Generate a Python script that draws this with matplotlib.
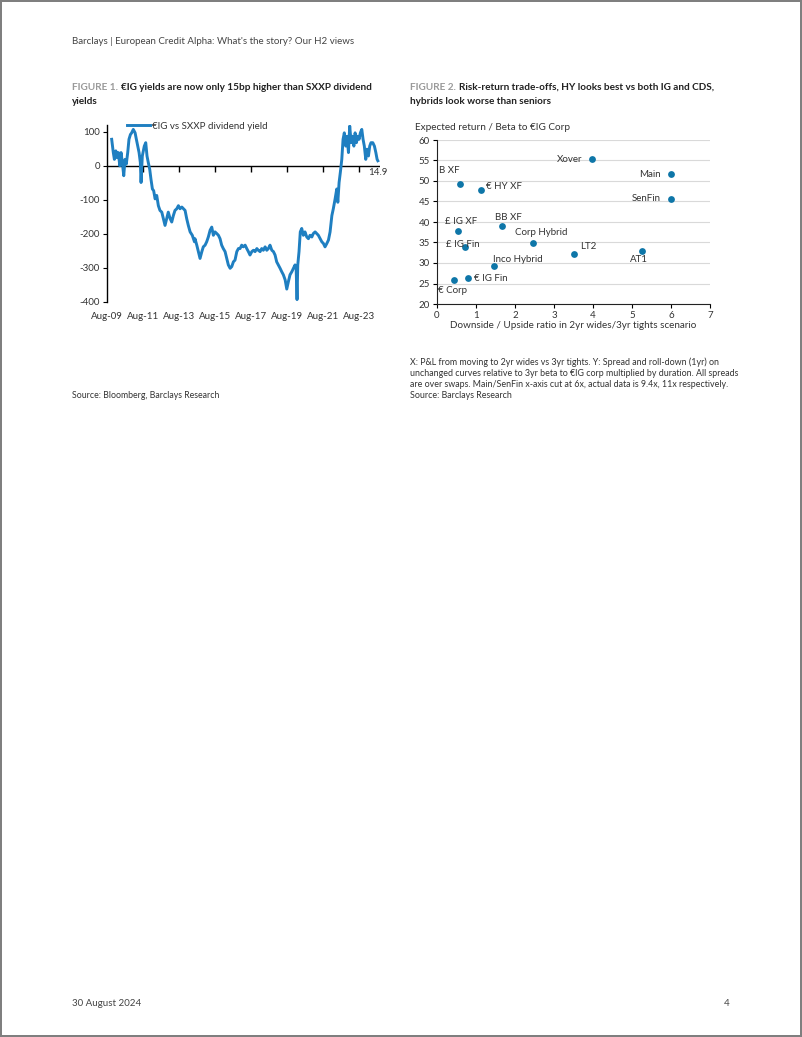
import matplotlib
matplotlib.use("Agg")
import matplotlib.pyplot as plt
import pandas as pd
import numpy as np

plt.rcParams['font.family'] = ['Lato', 'DejaVu Sans']
plt.rcParams['axes.unicode_minus'] = False

# ---------------- Data ----------------
# Figure 1: €IG vs SXXP dividend yield (bp), dates as decimal years
fig1_years = [
    2009.84, 2009.93, 2009.99, 2010.07, 2010.14, 2010.21, 2010.29, 2010.36, 2010.43, 2010.51,
    2010.58, 2010.65, 2010.73, 2010.80, 2010.88, 2010.95, 2011.04, 2011.14, 2011.21, 2011.29,
    2011.36, 2011.43, 2011.47, 2011.54, 2011.65, 2011.73, 2011.80, 2011.87, 2011.95, 2012.02,
    2012.10, 2012.17, 2012.25, 2012.34, 2012.43, 2012.52, 2012.62, 2012.71, 2012.80, 2012.89,
    2012.98, 2013.08, 2013.17, 2013.26, 2013.35, 2013.45, 2013.54, 2013.63, 2013.73, 2013.82,
    2013.91, 2014.00, 2014.09, 2014.19, 2014.31, 2014.43, 2014.46, 2014.56, 2014.65, 2014.74,
    2014.84, 2014.92, 2015.02, 2015.11, 2015.20, 2015.30, 2015.39, 2015.48, 2015.57, 2015.67,
    2015.76, 2015.85, 2015.94, 2016.03, 2016.13, 2016.22, 2016.31, 2016.41, 2016.50, 2016.59,
    2016.68, 2016.78, 2016.87, 2016.96, 2017.05, 2017.14, 2017.24, 2017.33, 2017.42, 2017.51,
    2017.61, 2017.70, 2017.79, 2017.89, 2017.97, 2018.07, 2018.16, 2018.25, 2018.35, 2018.44,
    2018.53, 2018.62, 2018.72, 2018.81, 2018.90, 2018.99, 2019.08, 2019.18, 2019.27, 2019.36,
    2019.46, 2019.55, 2019.64, 2019.73, 2019.83, 2019.92, 2020.01, 2020.07, 2020.12, 2020.16,
    2020.23, 2020.30, 2020.38, 2020.47, 2020.56, 2020.66, 2020.75, 2020.84, 2020.94, 2021.02,
    2021.12, 2021.21, 2021.30, 2021.40, 2021.49, 2021.58, 2021.67, 2021.77, 2021.86, 2021.95,
    2022.05, 2022.13, 2022.23, 2022.32, 2022.38, 2022.45, 2022.52, 2022.60, 2022.67, 2022.74,
    2022.82, 2022.89, 2022.97, 2023.04, 2023.12, 2023.19, 2023.27, 2023.34, 2023.41, 2023.49,
    2023.56, 2023.63, 2023.71, 2023.78, 2023.85, 2023.93, 2024.00, 2024.08, 2024.15, 2024.22,
    2024.32, 2024.41, 2024.49, 2024.56, 2024.60,
]
fig1_values = [
    78, 39, 19, 44, 24, 39, 0, 39, 10, -29,
    19, 5, 39, 78, 92, 97, 107, 97, 78, 58,
    39, 10, -49, 29, 58, 68, 29, 10, -10, -39,
    -68, -73, -97, -87, -117, -131, -136, -155, -175, -155,
    -136, -155, -165, -146, -131, -126, -117, -126, -121, -126,
    -131, -155, -175, -194, -204, -223, -214, -233, -252, -272,
    -252, -238, -233, -223, -209, -189, -180, -204, -194, -199,
    -204, -214, -233, -243, -252, -272, -291, -301, -296, -282,
    -277, -252, -243, -243, -233, -238, -233, -243, -252, -262,
    -252, -248, -252, -243, -248, -252, -243, -248, -238, -248,
    -243, -233, -248, -252, -262, -282, -291, -301, -311, -320,
    -335, -362, -340, -320, -311, -301, -291, -301, -393, -291,
    -252, -194, -184, -204, -194, -209, -214, -204, -209, -199,
    -194, -199, -204, -214, -223, -228, -238, -228, -218, -194,
    -146, -126, -97, -68, -107, -49, -19, 19, 78, 97,
    58, 87, 39, 117, 68, 87, 58, 97, 68, 87,
    78, 97, 107, 78, 58, 19, 49, 29, 58, 68,
    68, 58, 39, 19, 14.9,
]
fig1_series_name = "€IG vs SXXP dividend yield"
fig1_xtick_dates = ["2009-08-01", "2011-08-01", "2013-08-01", "2015-08-01",
                    "2017-08-01", "2019-08-01", "2021-08-01", "2023-08-01"]
fig1_xtick_labels = ["Aug-09", "Aug-11", "Aug-13", "Aug-15", "Aug-17", "Aug-19", "Aug-21", "Aug-23"]
fig1_yticks = [100, 0, -100, -200, -300, -400]
fig1_end_label = "14.9"

# Figure 2: risk-return scatter
fig2_names = ["Xover", "Main", "SenFin", "B XF", "€ HY XF", "£ IG XF", "BB XF",
              "Corp Hybrid", "£ IG Fin", "LT2", "AT1", "Inco Hybrid", "€ IG Fin", "€ Corp"]
fig2_x = [3.98, 6.0, 6.0, 0.60, 1.12, 0.54, 1.67, 2.45, 0.71, 3.50, 5.26, 1.45, 0.79, 0.44]
fig2_y = [55.3, 51.7, 45.7, 49.15, 47.7, 37.7, 39.0, 34.9, 33.9, 32.3, 32.9, 29.2, 26.3, 25.8]

# label placement (pixel offsets, alignment) - styling only
label_style = {
    "Xover": (-10, 0, "right"), "Main": (-10, 0, "right"), "SenFin": (-10, 0, "right"),
    "B XF": (-21, 14, "left"), "€ HY XF": (5, 4, "left"), "£ IG XF": (-13, 10, "left"),
    "BB XF": (-7, 9, "left"), "Corp Hybrid": (-18, 10, "left"), "£ IG Fin": (-19, 3, "left"),
    "LT2": (7, 7, "left"), "AT1": (-12, -8, "left"), "Inco Hybrid": (-1, 7, "left"),
    "€ IG Fin": (6, 0, "left"), "€ Corp": (-16, -10, "left"),
}

# ---------------- Figure ----------------
W, H = 802, 1037
fig = plt.figure(figsize=(W / 100, H / 100), dpi=100)
fig.patch.set_facecolor("white")
fig.patch.set_edgecolor("#7f7f7f")
fig.patch.set_linewidth(1.5)

def fx(px):
    return px / W

def fy(py):
    return 1 - py / H

TXT = "#333333"
LINE_C = "#1f7fc1"
DOT_C = "#0e76a8"

# Header / footer
fig.text(fx(72), fy(42), "Barclays | European Credit Alpha: What's the story? Our H2 views",
         fontsize=7, color="#444444", va="center", ha="left")
fig.text(fx(72), fy(1003), "30 August 2024", fontsize=7, color="#444444", va="center")
fig.text(fx(730), fy(1003), "4", fontsize=7, color="#444444", va="center", ha="right")

fig.canvas.draw()
renderer = fig.canvas.get_renderer()

def title(x, y, prefix, rest, line2):
    t = fig.text(fx(x), fy(y), prefix, fontsize=7.2, fontweight="bold", color="#9a9a9a",
                 va="center", ha="left")
    bb = t.get_window_extent(renderer=renderer)
    fig.text(fx(bb.x1 + 3), fy(y), rest, fontsize=7.2, fontweight="bold", color="#222222",
             va="center", ha="left")
    fig.text(fx(x), fy(y + 14), line2, fontsize=7.2, fontweight="bold", color="#222222",
             va="center", ha="left")

title(72, 87, "FIGURE 1.", "€IG yields are now only 15bp higher than SXXP dividend", "yields")
title(410, 87, "FIGURE 2.", "Risk-return trade-offs, HY looks best vs both IG and CDS,",
      "hybrids look worse than seniors")

# ---------------- Figure 1 axes ----------------
def year_to_ts(y):
    yr = int(np.floor(y))
    return pd.Timestamp(f"{yr}-01-01") + pd.Timedelta(days=(y - yr) * 365.25)

ax1 = fig.add_axes([fx(107), fy(302), fx(380) - fx(107), fy(125) - fy(302)])
d1 = [year_to_ts(y) for y in fig1_years]
ax1.plot(d1, fig1_values, color=LINE_C, lw=2.1, label=fig1_series_name, solid_joinstyle="round")
ax1.set_ylim(-400, 120)
ax1.set_xlim(pd.Timestamp("2009-08-01"), pd.Timestamp("2024-09-20"))
ax1.axhline(0, color="black", lw=1, zorder=1)
xt = pd.to_datetime(fig1_xtick_dates)
ax1.plot(xt[1:], [0] * (len(xt) - 1), ls="none", marker=3, ms=4, mew=1, color="black", zorder=1)
ax1.set_xticks(xt)
ax1.set_xticklabels(fig1_xtick_labels)
ax1.set_yticks(fig1_yticks)
for s in ["top", "right", "bottom"]:
    ax1.spines[s].set_visible(False)
ax1.spines["left"].set_color("black")
ax1.spines["left"].set_linewidth(1)
ax1.tick_params(axis="x", length=0, pad=7, labelsize=7, labelcolor=TXT)
ax1.tick_params(axis="y", length=3, width=0.8, pad=2, labelsize=7, labelcolor=TXT)
ax1.annotate(fig1_end_label, xy=(d1[-1], fig1_values[-1]), xytext=(0, -12),
             textcoords="offset pixels", ha="center", va="center", fontsize=7, color=TXT)
ax1.legend(loc="upper left", bbox_to_anchor=(0.06, 1.04), frameon=False, fontsize=7,
           handlelength=2.3, handletextpad=0.2, borderaxespad=0, labelcolor=TXT)

fig.text(fx(72), fy(396), "Source: Bloomberg, Barclays Research", fontsize=6.3, color=TXT, va="center")

# ---------------- Figure 2 axes ----------------
ax2 = fig.add_axes([fx(437), fy(304), fx(710) - fx(437), fy(140) - fy(304)])
ax2.scatter(fig2_x, fig2_y, s=24, color=DOT_C, zorder=3, linewidths=0)
for n, x, y in zip(fig2_names, fig2_x, fig2_y):
    dx, dy, ha = label_style[n]
    ax2.annotate(n, xy=(x, y), xytext=(dx, dy), textcoords="offset pixels",
                 ha=ha, va="center", fontsize=7, color=TXT, zorder=4)
ax2.set_xlim(0, 7)
ax2.set_ylim(20, 60)
ax2.set_xticks(range(0, 8))
ax2.set_yticks(range(20, 61, 5))
ax2.grid(axis="y", color="#d9d9d9", lw=0.8, zorder=0)
ax2.set_axisbelow(True)
for s in ["top", "right"]:
    ax2.spines[s].set_visible(False)
ax2.spines["left"].set_color("#222222")
ax2.spines["bottom"].set_color("#222222")
ax2.tick_params(axis="both", length=3, width=0.8, pad=2, labelsize=7, labelcolor=TXT)
ax2.set_xlabel("Downside / Upside ratio in 2yr wides/3yr tights scenario", fontsize=7.1,
               color=TXT, labelpad=1)
fig.text(fx(415), fy(127), "Expected return / Beta to €IG Corp", fontsize=7.2, color=TXT, va="center")

notes = ["X: P&L from moving to 2yr wides vs 3yr tights. Y: Spread and roll-down (1yr) on",
         "unchanged curves relative to 3yr beta to €IG corp multiplied by duration. All spreads",
         "are over swaps. Main/SenFin x-axis cut at 6x, actual data is 9.4x, 11x respectively.",
         "Source: Barclays Research"]
for i, line in enumerate(notes):
    fig.text(fx(410), fy(362 + i * 11.3), line, fontsize=6.4, color=TXT, va="center")

fig.savefig("out.png", dpi=100, facecolor=fig.get_facecolor(), edgecolor=fig.get_edgecolor())
